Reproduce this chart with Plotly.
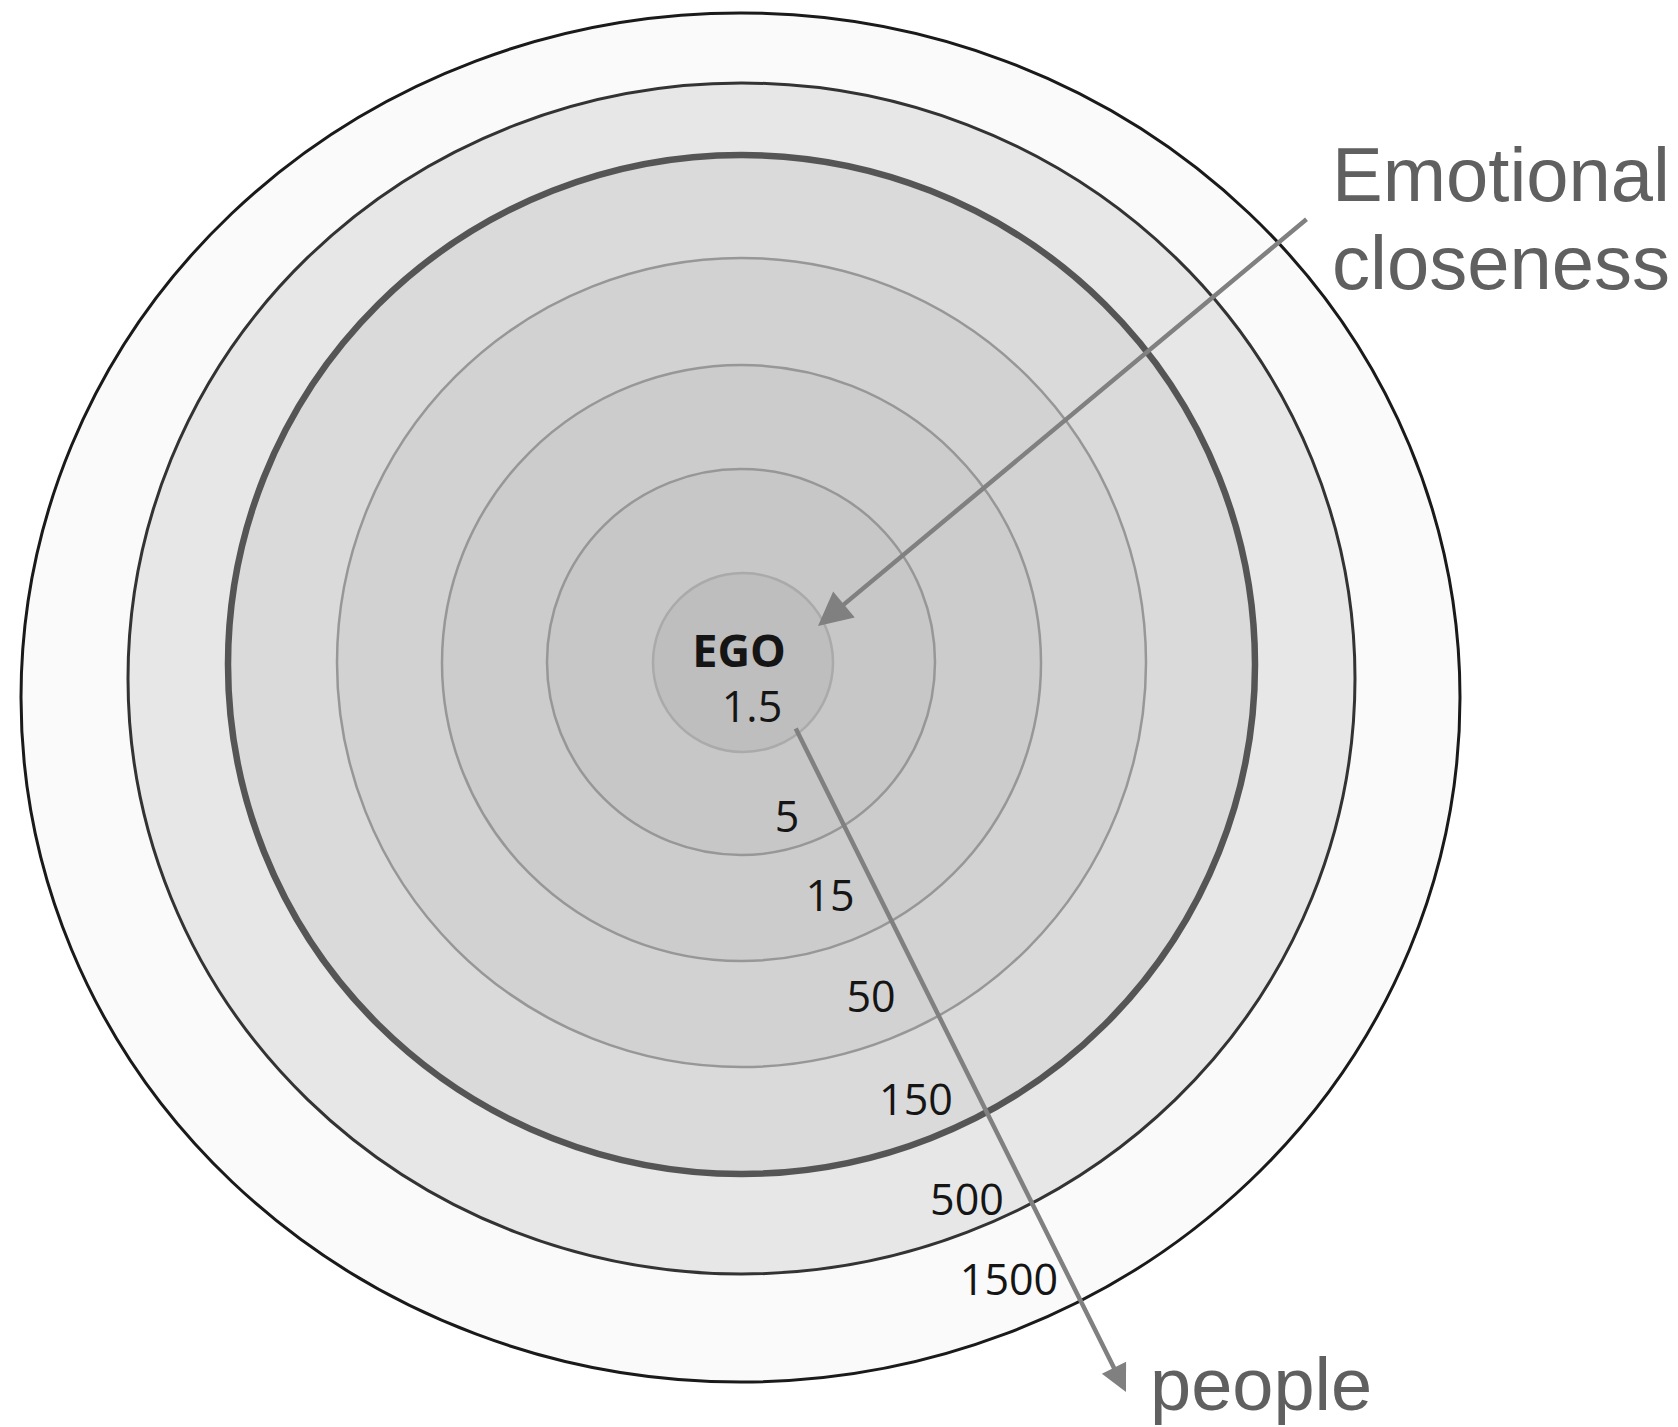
import plotly.graph_objects as go

# ---- data ----
ring_labels = ["1.5", "5", "15", "50", "150", "500", "1500"]
center_label = "EGO"
axis_titles = ["Emotional", "closeness", "people"]

# ---- layout geometry (page pixel space, y downwards) ----
W, H = 1678, 1427
PAGE_OFF = 8  # default body margin of the html page
# rings from outermost to innermost: (x0, x1, y0, y1)
ring_boxes = [
    (21, 1460, 13, 1382),    # 1500
    (128, 1355, 83, 1274),   # 500
    (228, 1255, 155, 1174),  # 150
    (337, 1146, 258, 1067),  # 50
    (442, 1041, 365, 961),   # 15
    (547, 935, 469, 855),    # 5
    (653, 833, 573, 752),    # 1.5 (EGO)
]
ring_fills = ["#fafafa", "#e7e7e7", "#dadada", "#d2d2d2", "#cccccc", "#c7c7c7", "#bebebe"]
ring_lines = ["#1a1a1a", "#333333", "#555555", "#979797", "#979797", "#979797", "#aaaaaa"]
ring_widths = [3, 3, 6.5, 2.5, 2.5, 2.5, 2.5]

# label positions (centers), same order as ring_labels
label_x = [752, 787, 830, 871, 916, 967, 1009]
label_y = [711, 821, 900, 1001, 1104, 1204, 1284]
ego_pos = (739, 656)

fig = go.Figure()

shapes = []
for (x0, x1, y0, y1), fc, lc, lw in zip(ring_boxes, ring_fills, ring_lines, ring_widths):
    shapes.append(dict(type="circle", xref="x", yref="y", x0=x0, x1=x1, y0=y0, y1=y1,
                       fillcolor=fc, line=dict(color=lc, width=lw), layer="below"))

fig.add_trace(go.Scatter(
    x=label_x, y=label_y, text=ring_labels, mode="text",
    textfont=dict(family="Open Sans", size=43, color="#151515"),
    hoverinfo="skip", showlegend=False))

fig.add_trace(go.Scatter(
    x=[ego_pos[0]], y=[ego_pos[1]], text=[center_label], mode="text",
    textfont=dict(family="Open Sans", size=45, color="#151515", weight="bold"),
    hoverinfo="skip", showlegend=False))

annotations = [
    # Emotional closeness arrow
    dict(x=818, y=626, ax=1308, ay=218, xref="x", yref="y", axref="x", ayref="y",
         text="", showarrow=True, arrowhead=2, arrowsize=1.5, arrowwidth=4.5,
         arrowcolor="#808080", standoff=0, startstandoff=0),
    # people arrow
    dict(x=1126, y=1392, ax=795, ay=727, xref="x", yref="y", axref="x", ayref="y",
         text="", showarrow=True, arrowhead=2, arrowsize=1.2, arrowwidth=4.5,
         arrowcolor="#808080", standoff=0, startstandoff=0),
    dict(x=1330, y=174, xref="x", yref="y", text=axis_titles[0], showarrow=False,
         xanchor="left", yanchor="middle",
         font=dict(family="Liberation Sans", size=76, color="#606060")),
    dict(x=1330, y=262, xref="x", yref="y", text=axis_titles[1], showarrow=False,
         xanchor="left", yanchor="middle",
         font=dict(family="Liberation Sans", size=76, color="#606060")),
    dict(x=1148, y=1384, xref="x", yref="y", text=axis_titles[2], showarrow=False,
         xanchor="left", yanchor="middle",
         font=dict(family="Liberation Sans", size=74, color="#606060")),
]

fig.update_layout(
    width=W, height=H, margin=dict(l=0, r=0, t=0, b=0),
    paper_bgcolor="white", plot_bgcolor="white",
    xaxis=dict(range=[PAGE_OFF, W + PAGE_OFF], visible=False, fixedrange=True),
    yaxis=dict(range=[H + PAGE_OFF, PAGE_OFF], visible=False, fixedrange=True),
    shapes=shapes, annotations=annotations, showlegend=False,
)

fig.write_html("out.html")
